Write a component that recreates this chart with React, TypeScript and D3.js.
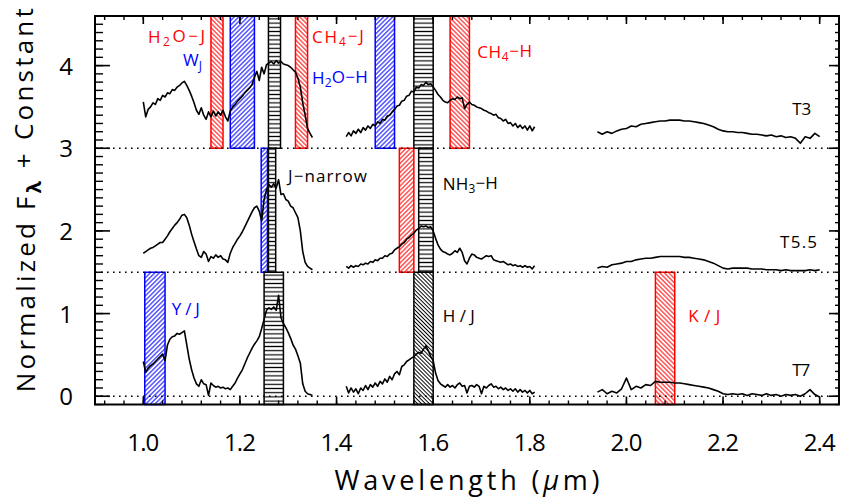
import React from "react";
import * as d3 from "d3";

const WIDTH = 844;
const HEIGHT = 501;

// Spectral types and vertical offsets (the "+ Constant")
const spectralTypes = ["T3", "T5.5", "T7"];
const offsets = [3, 1.5, 0];

// wavelength grids of the three spectral segments (micron)
const jStart = 1.0, jStep = 0.005;
const hStart = 1.42, hStep = 0.005;
const kStart = 1.94, kStep = 0.01;

// ---------- T3 normalized flux ----------
const t3J = [
  0.56, 0.38, 0.47, 0.50, 0.55, 0.53, 0.60, 0.58, 0.64, 0.62,
  0.67, 0.66, 0.71, 0.70, 0.74, 0.76, 0.79, 0.81, 0.76, 0.70,
  0.63, 0.55, 0.46, 0.41, 0.49, 0.40, 0.35, 0.44, 0.38, 0.45,
  0.39, 0.44, 0.40, 0.46, 0.38, 0.33, 0.45, 0.50, 0.53, 0.57,
  0.60, 0.63, 0.67, 0.70, 0.73, 0.77, 0.86, 0.93, 0.82, 0.98,
  0.90, 1.01, 1.03, 1.05, 1.02, 1.06, 1.03, 1.05, 1.02, 1.01,
  1.00, 0.98, 0.95, 0.92, 0.85, 0.74, 0.55, 0.40, 0.24, 0.18,
  0.13,
];
const t3H = [
  0.14, 0.19, 0.15, 0.21, 0.18, 0.23, 0.19, 0.25, 0.22, 0.27,
  0.24, 0.29, 0.27, 0.32, 0.30, 0.35, 0.34, 0.39, 0.40, 0.44,
  0.47, 0.51, 0.52, 0.57, 0.58, 0.63, 0.64, 0.69, 0.68, 0.74,
  0.73, 0.77, 0.76, 0.80, 0.77, 0.78, 0.74, 0.70, 0.65, 0.62,
  0.58, 0.56, 0.55, 0.58, 0.60, 0.59, 0.62, 0.60, 0.61, 0.48,
  0.53, 0.56, 0.53, 0.52, 0.50, 0.49, 0.48, 0.46, 0.45, 0.43,
  0.42, 0.40, 0.41, 0.37, 0.36, 0.33, 0.35, 0.30, 0.31, 0.27,
  0.30, 0.25, 0.28, 0.24, 0.27, 0.22, 0.27, 0.21, 0.26,
];
const t3K = [
  0.20, 0.17, 0.20, 0.18, 0.21, 0.23, 0.24, 0.27, 0.26, 0.29,
  0.30, 0.31, 0.32, 0.33, 0.33, 0.34, 0.34, 0.34, 0.33, 0.33,
  0.32, 0.31, 0.30, 0.28, 0.26, 0.23, 0.21, 0.20, 0.20, 0.19,
  0.19, 0.18, 0.17, 0.17, 0.16, 0.15, 0.16, 0.14, 0.15, 0.13,
  0.14, 0.12, 0.06, 0.14, 0.12, 0.18, 0.14,
];

// ---------- T5.5 normalized flux ----------
const t55J = [
  0.23, 0.25, 0.27, 0.29, 0.30, 0.32, 0.34, 0.36, 0.36, 0.40,
  0.44, 0.49, 0.53, 0.57, 0.60, 0.64, 0.69, 0.70, 0.66, 0.57,
  0.46, 0.37, 0.28, 0.20, 0.18, 0.25, 0.22, 0.13, 0.19, 0.17,
  0.21, 0.18, 0.20, 0.16, 0.15, 0.12, 0.23, 0.30, 0.35, 0.40,
  0.44, 0.49, 0.55, 0.61, 0.67, 0.73, 0.78, 0.80, 0.74, 0.62,
  0.88, 1.00, 1.06, 1.03, 1.07, 1.02, 1.12, 0.94, 0.95, 0.88,
  0.86, 0.80, 0.78, 0.72, 0.66, 0.50, 0.25, 0.12, 0.07, 0.05,
  0.03,
];
const t55H = [
  0.07, 0.05, 0.08, 0.06, 0.08, 0.07, 0.10, 0.09, 0.11, 0.10,
  0.13, 0.12, 0.15, 0.14, 0.17, 0.17, 0.20, 0.19, 0.22, 0.23,
  0.27, 0.29, 0.31, 0.34, 0.36, 0.40, 0.42, 0.45, 0.47, 0.51,
  0.53, 0.56, 0.55, 0.56, 0.54, 0.55, 0.50, 0.41, 0.33, 0.28,
  0.25, 0.24, 0.22, 0.21, 0.23, 0.26, 0.24, 0.29, 0.24, 0.14,
  0.10, 0.17, 0.22, 0.21, 0.18, 0.17, 0.16, 0.18, 0.20, 0.19,
  0.20, 0.15, 0.14, 0.13, 0.12, 0.13, 0.11, 0.09, 0.10, 0.08,
  0.09, 0.07, 0.08, 0.06, 0.08, 0.06, 0.07, 0.04, 0.08,
];
const t55K = [
  0.05, 0.07, 0.06, 0.09, 0.10, 0.11, 0.13, 0.13, 0.15, 0.16,
  0.17, 0.17, 0.18, 0.19, 0.19, 0.19, 0.19, 0.19, 0.18, 0.18,
  0.17, 0.16, 0.15, 0.13, 0.11, 0.08, 0.05, 0.04, 0.05, 0.05,
  0.05, 0.05, 0.04, 0.04, 0.04, 0.03, 0.03, 0.03, 0.02, 0.03,
  0.02, 0.02, 0.02, 0.02, 0.03, 0.02, 0.03,
];

// ---------- T7 normalized flux ----------
const t7J = [
  0.42, 0.29, 0.34, 0.37, 0.39, 0.42, 0.45, 0.48, 0.51, 0.43,
  0.62, 0.69, 0.72, 0.73, 0.76, 0.75, 0.77, 0.79, 0.62, 0.45,
  0.32, 0.22, 0.15, 0.12, 0.20, 0.15, 0.14, 0.01, 0.16, 0.13,
  0.11, 0.12, 0.10, 0.11, 0.09, 0.10, 0.08, 0.12, 0.16, 0.22,
  0.27, 0.32, 0.39, 0.46, 0.52, 0.58, 0.63, 0.67, 0.72, 0.82,
  0.93, 1.04, 1.07, 1.05, 1.08, 1.04, 1.22, 0.95, 0.88, 0.83,
  0.77, 0.70, 0.62, 0.57, 0.49, 0.40, 0.15, 0.06, 0.03, 0.02,
  0.01,
];
const t7H = [
  0.12, 0.04, 0.10, 0.05, 0.09, 0.03, 0.10, 0.07, 0.13, 0.08,
  0.14, 0.11, 0.16, 0.12, 0.18, 0.15, 0.21, 0.17, 0.24, 0.20,
  0.27, 0.30, 0.26, 0.36, 0.38, 0.42, 0.44, 0.46, 0.48, 0.51,
  0.53, 0.52, 0.57, 0.61, 0.55, 0.48, 0.43, 0.28, 0.19, 0.15,
  0.13, 0.11, 0.14, 0.11, 0.13, 0.10, 0.14, 0.16, 0.12, 0.13,
  0.04, 0.12, 0.13, 0.11, 0.14, 0.12, 0.03, 0.12, 0.10, 0.13,
  0.15, 0.11, 0.12, 0.09, 0.11, 0.08, 0.10, 0.07, 0.09, 0.06,
  0.09, 0.05, 0.08, 0.05, 0.07, 0.04, 0.07, 0.03, 0.05,
];
const t7K = [
  0.05, 0.08, 0.03, 0.06, 0.04, 0.09, 0.22, 0.08, 0.12, 0.10,
  0.14, 0.13, 0.18, 0.17, 0.17, 0.17, 0.16, 0.16, 0.15, 0.14,
  0.13, 0.12, 0.11, 0.10, 0.08, 0.06, 0.03, 0.02, 0.03, 0.02,
  0.03, 0.01, 0.03, 0.02, 0.01, 0.03, 0.01, 0.02, 0.00, 0.02,
  0.01, 0.02, 0.00, 0.03, 0.08, 0.02, -0.01,
];

const spectra = [
  [t3J, t3H, t3K],
  [t55J, t55H, t55K],
  [t7J, t7H, t7K],
];
const segStarts = [jStart, hStart, kStart];
const segSteps = [jStep, hStep, kStep];

// ---------- index bands (micron); row 0 = T3 panel, 1 = T5.5, 2 = T7 ----------
const bandRow = [0, 0, 0, 0, 0, 0, 0, 1, 1, 1, 1, 2, 2, 2, 2];
const bandLo = [1.14, 1.18, 1.259, 1.315, 1.48, 1.56, 1.635, 1.244, 1.259, 1.53, 1.57, 1.003, 1.25, 1.56, 2.06];
const bandHi = [1.165, 1.23, 1.284, 1.34, 1.52, 1.60, 1.675, 1.257, 1.274, 1.56, 1.60, 1.045, 1.29, 1.60, 2.10];
const bandKind = [
  "redBack", "blueFwd", "blackHoriz", "redBack", "blueFwd", "blackHoriz", "redBack",
  "blueFwd", "blackHoriz", "redFwd", "blackHoriz",
  "blueFwd", "blackHoriz", "blackBack", "redBack",
];
const rowBottom = [3, 1.5, -0.1];
const rowTop = [4.6, 3, 1.5];
const dottedLevels = [0, 1.5, 3];

// ---------- annotations ----------
type Part = [string, boolean];
const labelParts: Part[][] = [
  [["H", false], ["2", true], ["O\u2212J", false]],
  [["W", false], ["J", true]],
  [["CH", false], ["4", true], ["\u2212J", false]],
  [["H", false], ["2", true], ["O\u2212H", false]],
  [["CH", false], ["4", true], ["\u2212H", false]],
  [["T3", false]],
  [["J\u2212narrow", false]],
  [["NH", false], ["3", true], ["\u2212H", false]],
  [["T5.5", false]],
  [["Y/J", false]],
  [["H/J", false]],
  [["K/J", false]],
  [["T7", false]],
];
const labelColor = ["red", "blue", "red", "blue", "red", "black", "black", "black", "black", "blue", "black", "red", "black"];
const labelX = [1.0097, 1.082, 1.349, 1.349, 1.691, 2.343, 1.2995, 1.62, 2.318, 1.059, 1.62, 2.128, 2.343];
const labelY = [4.273, 3.99, 4.273, 3.777, 4.092, 3.402, 2.592, 2.495, 1.793, 0.983, 0.898, 0.898, 0.245];
const labelLen = [57, 19, 52, 56, 55, 19, 79, 55, 37, 28, 32, 32, 18];

const xTickValues = [1.0, 1.2, 1.4, 1.6, 1.8, 2.0, 2.2, 2.4];
const xTickLabels = ["1.0", "1.2", "1.4", "1.6", "1.8", "2.0", "2.2", "2.4"];
const yTickValues = [0, 1, 2, 3, 4];
const yTickLabels = ["0", "1", "2", "3", "4"];

const COLORS: Record<string, string> = { red: "#ff0000", blue: "#0000ff", black: "#000000" };
const FONT = "'Open Sans', 'DejaVu Sans', sans-serif";

export default function App() {
  const L = 95, R = 839, T = 16, B = 404.5;
  const x = d3.scaleLinear().domain([0.9, 2.44]).range([L, R]);
  const y = d3.scaleLinear().domain([-0.1, 4.6]).range([B, T]);
  const line = d3
    .line<[number, number]>()
    .x((d) => x(d[0]))
    .y((d) => y(d[1]));

  const xMinor = d3.range(0.92, 2.44, 0.04);
  const yMinor = d3.range(-0.1, 4.61, 0.1);

  const kindColor = (k: string) =>
    k.startsWith("red") ? COLORS.red : k.startsWith("blue") ? COLORS.blue : COLORS.black;

  const renderParts = (parts: Part[]) =>
    parts.map(([s, sub], i) =>
      sub ? (
        <tspan key={i} fontSize="0.7em" dy="0.28em">{s}</tspan>
      ) : (
        <tspan key={i} dy={i > 0 && parts[i - 1][1] ? "-0.28em" : "0"}>{s}</tspan>
      )
    );

  return (
    <svg
      width={WIDTH}
      height={HEIGHT}
      style={{ position: "absolute", left: 0, top: 0, background: "#fff" }}
      fontFamily={FONT}
      fontWeight={400}
    >
      <defs>
        <pattern id="redBack" patternUnits="userSpaceOnUse" width="3.2" height="10" patternTransform="rotate(-45)">
          <line x1="1.6" y1="-1" x2="1.6" y2="11" stroke={COLORS.red} strokeWidth="1" />
        </pattern>
        <pattern id="redFwd" patternUnits="userSpaceOnUse" width="3.2" height="10" patternTransform="rotate(45)">
          <line x1="1.6" y1="-1" x2="1.6" y2="11" stroke={COLORS.red} strokeWidth="1" />
        </pattern>
        <pattern id="blueFwd" patternUnits="userSpaceOnUse" width="3.2" height="10" patternTransform="rotate(45)">
          <line x1="1.6" y1="-1" x2="1.6" y2="11" stroke={COLORS.blue} strokeWidth="1" />
        </pattern>
        <pattern id="blackBack" patternUnits="userSpaceOnUse" width="2.8" height="10" patternTransform="rotate(-45)">
          <line x1="1.4" y1="-1" x2="1.4" y2="11" stroke="#000" strokeWidth="1" />
        </pattern>
        <pattern id="blackHoriz" patternUnits="userSpaceOnUse" width="10" height="4.2">
          <line x1="-1" y1="2.1" x2="11" y2="2.1" stroke="#000" strokeWidth="1.2" />
        </pattern>
      </defs>

      {/* index bands */}
      {bandKind.map((k, i) => (
        <rect
          key={"band" + i}
          x={x(bandLo[i])}
          y={y(rowTop[bandRow[i]])}
          width={x(bandHi[i]) - x(bandLo[i])}
          height={y(rowBottom[bandRow[i]]) - y(rowTop[bandRow[i]])}
          fill={`url(#${k})`}
          stroke={kindColor(k)}
          strokeWidth={1.5}
        />
      ))}

      {/* dotted zero levels */}
      {dottedLevels.map((v) => (
        <line
          key={"dot" + v}
          x1={L}
          x2={R}
          y1={y(v)}
          y2={y(v)}
          stroke="#000"
          strokeWidth={1.6}
          strokeDasharray="1.6 4.4"
        />
      ))}

      {/* spectra */}
      {spectra.map((segs, si) =>
        segs.map((vals, gi) => {
          const pts: [number, number][] = vals.map((v, i) => [
            segStarts[gi] + i * segSteps[gi],
            v + offsets[si],
          ]);
          return (
            <path
              key={spectralTypes[si] + gi}
              d={line(pts) || ""}
              fill="none"
              stroke="#000"
              strokeWidth={1.6}
              strokeLinejoin="round"
            />
          );
        })
      )}

      {/* annotations */}
      {labelParts.map((parts, i) => (
        <text
          key={"lab" + i}
          x={x(labelX[i])}
          y={y(labelY[i])}
          fill={COLORS[labelColor[i]]}
          fontSize={17}
          textLength={labelLen[i]}
          lengthAdjust="spacing"
        >
          {renderParts(parts)}
        </text>
      ))}

      {/* frame */}
      <rect x={L} y={T} width={R - L} height={B - T} fill="none" stroke="#000" strokeWidth={2} />

      {/* x ticks */}
      {xMinor.map((v, i) => (
        <g key={"xm" + i}>
          <line x1={x(v)} x2={x(v)} y1={B} y2={B - 4} stroke="#000" strokeWidth={1.4} />
          <line x1={x(v)} x2={x(v)} y1={T} y2={T + 4} stroke="#000" strokeWidth={1.4} />
        </g>
      ))}
      {xTickValues.map((v, i) => (
        <g key={"xM" + i}>
          <line x1={x(v)} x2={x(v)} y1={B} y2={B - 8} stroke="#000" strokeWidth={1.6} />
          <line x1={x(v)} x2={x(v)} y1={T} y2={T + 8} stroke="#000" strokeWidth={1.6} />
          <text x={x(v)} y={451} textAnchor="middle" fontSize={24} fill="#000" textLength={32} lengthAdjust="spacing">
            {xTickLabels[i]}
          </text>
        </g>
      ))}

      {/* y ticks */}
      {yMinor.map((v, i) => (
        <g key={"ym" + i}>
          <line x1={L} x2={L + 8} y1={y(v)} y2={y(v)} stroke="#000" strokeWidth={1.4} />
          <line x1={R} x2={R - 4} y1={y(v)} y2={y(v)} stroke="#000" strokeWidth={1.4} />
        </g>
      ))}
      {yTickValues.map((v, i) => (
        <g key={"yM" + i}>
          <line x1={L} x2={L + 15} y1={y(v)} y2={y(v)} stroke="#000" strokeWidth={1.6} />
          <line x1={R} x2={R - 10} y1={y(v)} y2={y(v)} stroke="#000" strokeWidth={1.6} />
          <text x={73} y={y(v) + 9} textAnchor="end" fontSize={24} fill="#000">
            {yTickLabels[i]}
          </text>
        </g>
      ))}

      {/* axis titles */}
      <text x={(L + R) / 2} y={490} textAnchor="middle" fontSize={27} fill="#000" textLength={265} lengthAdjust="spacing">
        Wavelength (<tspan fontStyle="italic">μ</tspan>m)
      </text>
      <text
        transform={`translate(35,${(T + B) / 2 - 10}) rotate(-90)`}
        textAnchor="middle"
        fontSize={26}
        fill="#000"
        textLength={384}
        lengthAdjust="spacing"
      >
        Normalized F<tspan fontSize="0.75em" dy="0.3em" fontWeight="bold">λ</tspan>
        <tspan dy="-0.3em"> + Constant</tspan>
      </text>
    </svg>
  );
}
